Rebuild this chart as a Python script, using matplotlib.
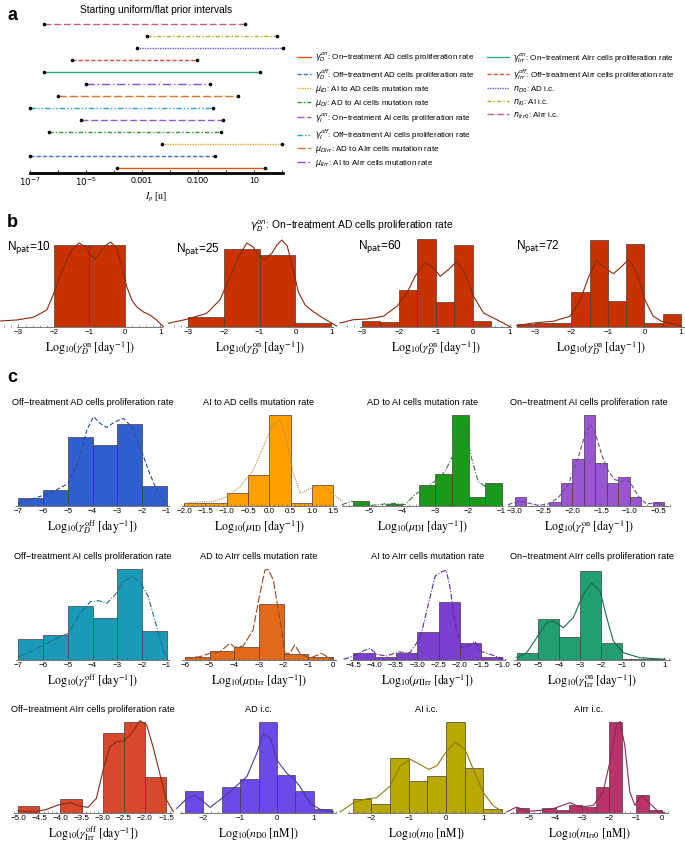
import numpy as np
import matplotlib.pyplot as plt
from matplotlib.font_manager import FontProperties
from matplotlib.ticker import MultipleLocator, AutoMinorLocator, FixedLocator, NullFormatter

plt.rcParams['font.family'] = ['Liberation Sans', 'DejaVu Sans']
plt.rcParams['mathtext.fontset'] = 'stix'

W, H = 685.0, 846.0
fig = plt.figure(figsize=(6.85, 8.46), dpi=100)


def add_ax(x0, x1, ytop, ybot):
    # place an axes with pixel coordinates of the 685x846 canvas
    return fig.add_axes([x0 / W, 1 - ybot / H, (x1 - x0) / W, (ybot - ytop) / H])


def fig_text(x, y, s, **kw):
    return fig.text(x / W, 1 - y / H, s, **kw)


# ---------------- panel a : prior intervals ----------------
prior_labels = [
    r'$\gamma_D^{on}$: On−treatment AD cells proliferation rate',
    r'$\gamma_D^{off}$: Off−treatment AD cells proliferation rate',
    r'$\mu_{ID}$: AI to AD cells mutation rate',
    r'$\mu_{DI}$: AD to AI cells mutation rate',
    r'$\gamma_I^{on}$: On−treatment AI cells proliferation rate',
    r'$\gamma_I^{off}$: Off−treatment AI cells proliferation rate',
    r'$\mu_{DIrr}$: AD to AIrr cells mutation rate',
    r'$\mu_{IIrr}$: AI to AIrr cells mutation rate',
    r'$\gamma_{Irr}^{on}$: On−treatment AIrr cells proliferation rate',
    r'$\gamma_{Irr}^{off}$: Off−treatment AIrr cells proliferation rate',
    r'$n_{D0}$: AD i.c.',
    r'$n_{I0}$: AI i.c.',
    r'$n_{Irr0}$: AIrr i.c.',
]
prior_lo = [1.3e-4, 1e-7, 5.4e-3, 4.8e-7, 6.5e-6, 1e-7, 1e-6, 1e-5, 3.2e-7, 3.2e-6, 6.8e-4, 1.5e-3, 3.2e-7]
prior_hi = [24, 0.42, 100, 0.69, 0.76, 0.35, 2.6, 0.26, 17, 0.091, 110, 68, 5.0]
prior_colors = ['#d9581f', '#3a6fd8', '#f5a623', '#2a9a2a', '#9b59d0', '#25a7c7', '#e0742a',
                '#8a4fd6', '#2aae80', '#d9503a', '#6a5ae8', '#b8b020', '#cc5c8c']
prior_styles = ['-', (0, (3, 1.5)), (0, (1, 0.8)), (0, (3, 1.5, 1, 1.5)), (0, (5, 2)),
                (0, (4, 1.5, 1, 1.5, 1, 1.5)), (0, (6, 2)), (0, (6, 2, 1, 2)), '-',
                (0, (3, 1.5)), (0, (1, 0.8)), (0, (3, 1.5, 1, 1.5)), (0, (5, 2))]

ax = add_ax(30, 283, 15, 173)
handles = []
for i in range(len(prior_labels)):
    ln, = ax.plot([prior_lo[i], prior_hi[i]], [i + 1, i + 1], color=prior_colors[i],
                  ls=prior_styles[i], lw=1.0, clip_on=False)
    ax.plot([prior_lo[i], prior_hi[i]], [i + 1, i + 1], 'o', color='k', ms=1.6, clip_on=False)
    handles.append(ln)
ax.set_xscale('log')
ax.set_xlim(1e-7, 10 ** 2.04)
ax.set_ylim(0.583, 13.75)
for s in ['left', 'right', 'top']:
    ax.spines[s].set_visible(False)
ax.spines['bottom'].set_linewidth(2.0)
ax.set_yticks([])
ax.xaxis.set_major_locator(FixedLocator([1e-7, 1e-5, 1e-3, 1e-1, 1e1]))
ax.set_xticklabels([r'$10^{-7}$', r'$10^{-5}$', '0.001', '0.100', '10'], fontsize=6.3)
for lbl in ax.get_xticklabels():
    lbl.set_math_fontfamily('dejavusans')
ax.xaxis.set_minor_locator(FixedLocator([1e-6, 1e-4, 1e-2, 1, 1e2]))
ax.xaxis.set_minor_formatter(NullFormatter())
ax.tick_params(axis='x', which='both', direction='in', length=2.5, width=0.6, pad=2)
ax.set_xlabel(r'$I_p$ [u]', fontsize=7, labelpad=2, family='Liberation Serif')
ax.set_title('Starting uniform/flat prior intervals', fontsize=7.3, pad=1.5)

leg_font = FontProperties(family='Liberation Sans', size=5.8, math_fontfamily='dejavusans')
leg_kw = dict(loc='upper left', frameon=False, prop=leg_font, handletextpad=0.55,
              labelspacing=0.3, borderpad=0, borderaxespad=0)
fig.legend(handles[:8], prior_labels[:8], bbox_to_anchor=(297 / W, 1 - 51 / H),
           handlelength=1.7, **leg_kw)
fig.legend(handles[8:], prior_labels[8:], bbox_to_anchor=(487 / W, 1 - 51 / H),
           handlelength=2.7, **leg_kw)

# ---------------- panel b : gamma_D^on vs number of patients ----------------
b_npat = [10, 25, 60, 72]
b10_edges = [-2, -1, 0]
b10_heights = [82, 82]
b25_edges = [-3, -2, -1, 0, 1]
b25_heights = [10.3, 77.7, 72.3, 4.3]
b60_edges = [-3, -2.5, -2, -1.5, -1, -0.5, 0, 0.5]
b60_heights = [5.7, 5, 37.3, 88.3, 24.7, 82.3, 5.7]
b72_edges = [-3.5, -3, -2.5, -2, -1.5, -1, -0.5, 0, 0.5, 1]
b72_heights = [3.3, 4, 4, 34.7, 87.3, 25.7, 83.3, 4, 13]

b10_kde_x = [-3.52, -3.05, -2.58, -2.20, -2.02, -1.83, -1.64, -1.45, -1.28, -1.12, -0.98, -0.84,
             -0.70, -0.56, -0.40, -0.23, -0.08, 0.06, 0.20, 0.34, 0.53, 0.71, 0.90, 1.09]
b10_kde_y = [6, 7, 9.7, 17, 32, 50, 67, 79, 84, 80, 72, 68, 74, 81, 85, 79, 60, 40, 27, 20,
             15, 12, 7, 0.3]
b25_kde_x = [-3.55, -3.04, -2.48, -2.11, -1.83, -1.59, -1.36, -1.18, -0.99, -0.85, -0.66,
             -0.52, -0.38, -0.23, -0.06, 0.08, 0.27, 0.50, 0.78, 1.15]
b25_kde_y = [3.7, 7.7, 13.7, 27, 50, 70, 84, 80, 70, 67.7, 73.7, 82, 87, 81, 57, 35, 22,
             15.3, 8.7, 1]
b60_kde_x = [-3.59, -3.23, -2.86, -2.42, -2.05, -1.78, -1.56, -1.29, -1.06, -0.88, -0.66,
             -0.43, -0.21, 0.02, 0.29, 0.56, 0.83, 1.01]
b60_kde_y = [4, 7.3, 8, 10.7, 20.7, 34, 50.7, 64.7, 59, 50.7, 57.3, 65.7, 54, 30.7, 14, 9,
             4, 0]
b72_kde_x = [-3.50, -3.05, -2.50, -2.04, -1.77, -1.54, -1.31, -1.08, -0.85, -0.62, -0.42,
             -0.21, 0.01, 0.24, 0.47, 0.79, 1.02]
b72_kde_y = [1.3, 4, 5.7, 10.7, 25.7, 49, 66.7, 59, 53.3, 60.7, 68, 54, 27.3, 10.7, 5.7,
             3.3, 0.7]

b_sets = [
    (b10_edges, b10_heights, b10_kde_x, b10_kde_y, (0, 163), (-3.52, 1.08), (-3.05, 1.05), (7, 248)),
    (b25_edges, b25_heights, b25_kde_x, b25_kde_y, (168, 337), (-3.56, 1.16), (-3.05, 1.05), (176, 250)),
    (b60_edges, b60_heights, b60_kde_x, b60_kde_y, (340, 512), (-3.59, 1.06), (-3.05, 1.02), (358, 247)),
    (b72_edges, b72_heights, b72_kde_x, b72_kde_y, (517, 685), (-3.49, 1.11), (-3.5, 1.1), (516, 247)),
]

hist_lab_kw = dict(ha='center', va='center', fontsize=8.5)


def draw_hist(ax, edges, heights, kx, ky, face, lcol, ls, xlim, step, bounds=None):
    edges = np.asarray(edges, dtype=float)
    ax.bar(edges[:-1], heights, width=np.diff(edges), align='edge', color=face,
           edgecolor='#4a3a3a', linewidth=0.5)
    ax.plot(kx, ky, color=lcol, ls=ls, lw=0.8, clip_on=False)
    ax.set_xlim(*xlim)
    ax.set_ylim(0, 95)
    ax.set_yticks([])
    for s in ['left', 'right', 'top']:
        ax.spines[s].set_visible(False)
    ax.spines['bottom'].set_color('#777777')
    ax.spines['bottom'].set_linewidth(0.7)
    if bounds is not None:
        ax.spines['bottom'].set_bounds(*bounds)
    ax.xaxis.set_major_locator(MultipleLocator(step))
    ax.xaxis.set_minor_locator(AutoMinorLocator(5))
    ax.tick_params(axis='x', which='major', direction='in', length=2.5, width=0.5,
                   labelsize=5.8, pad=1.5, color='#555555')
    ax.tick_params(axis='x', which='minor', direction='in', length=1.3, width=0.4,
                   color='#555555')
    ax.patch.set_alpha(0)


t = fig_text(352, 226, r'$\gamma_D^{on}$: On−treatment AD cells proliferation rate', ha='center',
             va='center', fontsize=7.4)
t.set_math_fontfamily('dejavusans')
xlab_b = r'$\mathrm{Log}_{10}(\gamma_D^{\mathrm{on}}\ [\mathrm{day}^{-1}])$'
for k, (e, h, kx, ky, (x0, x1), xl, bnd, (tx, ty)) in enumerate(b_sets):
    axb = add_ax(x0, x1, 232, 327)
    draw_hist(axb, e, h, kx, ky, '#c83200', '#8b2a10', '-', xl, 1, bnd)
    axb.set_xticks([-3, -2, -1, 0, 1])
    axb.annotate(xlab_b, xy=((bnd[0] + bnd[1]) / 2, 0), xycoords=('data', 'axes fraction'),
                 xytext=(0, -15.5), textcoords='offset points', **hist_lab_kw)
    t = fig_text(tx, ty, r'N$_{\mathrm{pat}}$=%d' % b_npat[k], ha='left', va='center',
                 fontsize=8.5)
    t.set_math_fontfamily('dejavusans')

# ---------------- panel c : posterior histograms ----------------
gDoff_edges = [-7, -6, -5, -4, -3, -2, -1]
gDoff_heights = [7.3, 15.7, 69, 60.7, 81.7, 20]
gDoff_kde_x = [-7.0, -6.39, -5.72, -4.98, -4.50, -4.23, -3.96, -3.69, -3.42, -3.09, -2.75,
               -2.41, -2.07, -1.74, -1.40, -1.06]
gDoff_kde_y = [2.3, 7.3, 12.3, 22.3, 49, 75.7, 89, 82.3, 78.3, 84, 87.3, 79, 59, 35.7, 15.7, 2.3]

muID_edges = [-2, -1.5, -1, -0.5, 0, 0.5, 1, 1.5]
muID_heights = [2.3, 2.3, 13, 30.7, 90.7, 2.3, 20.7]
muID_kde_x = [-2.0, -1.63, -1.32, -1.0, -0.69, -0.38, -0.14, 0.05, 0.25, 0.40, 0.56, 0.72,
              0.95, 1.23, 1.46, 1.73]
muID_kde_y = [2.3, 4, 4, 9, 19, 35.7, 59, 79, 85.7, 65.7, 32.3, 12.3, 17.3, 20.7, 12.3, 4]

muDI_edges = [-5.5, -5, -4.5, -4, -3.5, -3, -2.5, -2, -1.5, -1]
muDI_heights = [5, 0, 2, 0, 20.3, 32, 90.3, 8.3, 23]
muDI_kde_x = [-5.83, -5.53, -5.23, -4.93, -4.53, -4.22, -3.92, -3.62, -3.32, -3.02, -2.71,
              -2.46, -2.26, -2.16, -2.06, -1.91, -1.71, -1.50, -1.25, -1.05]
muDI_kde_y = [1, 4.3, 3.7, 0.3, 1.7, 2.3, 1, 11, 17.7, 24.3, 34.3, 51, 71, 76, 71, 47.7, 24.3,
              19.3, 21, 19.3]

gIon_edges = [-3.0, -2.8, -2.6, -2.4, -2.2, -2.0, -1.8, -1.6, -1.4, -1.2, -1.0, -0.8, -0.6, -0.4]
gIon_heights = [9, 0, 0, 4, 23, 47, 90.3, 42.7, 23, 28.3, 9, 0, 4]
gIon_kde_x = [-3.12, -2.97, -2.88, -2.77, -2.59, -2.42, -2.25, -2.07, -1.90, -1.78, -1.69,
              -1.61, -1.49, -1.37, -1.26, -1.14, -1.05, -0.97, -0.85, -0.71, -0.56, -0.39]
gIon_kde_y = [1, 3.7, 4.3, 2.7, 0.3, 1.7, 7.7, 21, 47.7, 71, 81, 74.3, 51, 34.3, 26, 24.3, 26,
              21, 9.3, 1.7, 2.7, 1]

gIoff_edges = [-7, -6, -5, -4, -3, -2, -1]
gIoff_heights = [21, 25, 54, 42.3, 91, 29.3]
gIoff_kde_x = [-7.0, -6.39, -5.72, -4.98, -4.50, -4.09, -3.76, -3.42, -3.09, -2.75, -2.41,
               -2.07, -1.74, -1.40, -1.13, -1.0]
gIoff_kde_y = [3.3, 10, 18.3, 26.7, 46.7, 58.3, 59.3, 56.7, 65, 78.3, 83.3, 78.3, 63.3, 33.3,
               10, 1.7]

muDIrr_edges = [-6, -5, -4, -3, -2, -1, 0]
muDIrr_heights = [3.3, 9.3, 13.3, 55.7, 6, 3.3]
muDIrr_kde_x = [-6.0, -5.39, -4.99, -4.58, -4.18, -3.98, -3.64, -3.24, -2.96, -2.76, -2.63,
                -2.42, -2.15, -1.95, -1.75, -1.55, -1.34, -0.94, -0.47, -0.13, 0.0]
muDIrr_kde_y = [1.7, 3.3, 6.7, 8.3, 16.7, 12.7, 14, 30, 66.7, 90, 90.7, 80, 40, 6.7, 6.7, 15,
                6.7, 1.7, 6.7, 1.7, 0.7]

muIIrr_edges = [-4.5, -4, -3.5, -3, -2.5, -2, -1.5, -1]
muIIrr_heights = [6.7, 3, 7.3, 28.3, 58, 17.3, 3.3]
muIIrr_kde_x = [-4.73, -4.5, -4.27, -4.11, -3.95, -3.72, -3.44, -3.17, -2.93, -2.74, -2.58,
                -2.42, -2.32, -2.23, -2.11, -1.96, -1.80, -1.64, -1.53, -1.29, -1.06, -0.90]
muIIrr_kde_y = [0.7, 4, 9, 11.7, 5.7, 4, 8, 7.3, 22.3, 55.7, 84, 88.3, 89.7, 72.3, 35.7, 12.3,
                14, 18.3, 9, 5.7, 2.3, 0]

gIrron_edges = [-6, -5, -4, -3, -2, -1, 0, 1]
gIrron_heights = [7.3, 40.7, 23, 89, 16.7, 1.3, 1.3]
gIrron_kde_x = [-6.02, -5.53, -5.05, -4.58, -4.27, -3.79, -3.32, -2.84, -2.45, -2.05, -1.73,
                -1.42, -0.95, -0.16, 1.03]
gIrron_kde_y = [2.3, 7.3, 22.3, 37.3, 39, 32.3, 42.3, 65.7, 77.3, 69, 42.3, 19, 7.3, 2.3, 0.7]

gIrroff_edges = [-5, -4.5, -4, -3.5, -3, -2.5, -2, -1.5]
gIrroff_heights = [6.7, 0, 14, 0, 79.3, 90.3, 36]
gIrroff_kde_x = [-5.0, -4.65, -4.33, -4.06, -3.78, -3.54, -3.35, -3.15, -2.99, -2.83, -2.67,
                 -2.50, -2.32, -2.12, -1.96, -1.81, -1.61, -1.49, -1.33]
gIrroff_kde_y = [2, 0.7, 3.3, 7.7, 10, 6.7, 5.3, 14.3, 42.7, 66, 71, 71.7, 79.3, 92, 87.7, 66,
                 32.7, 12.7, 1]

nD0_edges = [-2.5, -2, -1.5, -1, -0.5, 0, 0.5, 1, 1.5]
nD0_heights = [22, 0, 26, 33.7, 91, 37.7, 22, 3.3]
nD0_kde_x = [-2.73, -2.45, -2.23, -2.0, -1.82, -1.5, -1.18, -0.82, -0.55, -0.37, -0.18, 0.0,
             0.27, 0.45, 0.63, 0.91, 1.18, 1.54]
nD0_kde_y = [4.3, 14.3, 17.7, 11, 5.3, 14.3, 24.3, 36, 59.3, 79.3, 74.3, 52.7, 39.3, 34.3, 26,
             9.3, 3.3, 1]

nI0_edges = [-2.5, -2, -1.5, -1, -0.5, 0, 0.5, 1, 1.5]
nI0_heights = [13.3, 9, 54.3, 31.7, 36.7, 90.7, 45, 4]
nI0_kde_x = [-2.84, -2.48, -2.12, -1.86, -1.5, -1.23, -0.96, -0.70, -0.47, -0.25, 0.02, 0.24,
             0.51, 0.73, 1.0, 1.27, 1.49]
nI0_kde_y = [0.7, 10, 14, 15, 26.7, 46.7, 53.3, 48.3, 43.3, 46.7, 61.7, 70.7, 63.3, 43.3, 20,
             6.7, 1.7]

nIrr0_edges = [-5.5, -5, -4.5, -4, -3.5, -3, -2.5, -2, -1.5, -1, -0.5, 0]
nIrr0_heights = [4.7, 0, 4.7, 2.3, 7.3, 5.7, 25.7, 90.7, 0, 17.3, 2.3]
nIrr0_kde_x = [-5.84, -5.46, -5.09, -4.59, -4.09, -3.47, -3.09, -2.59, -2.22, -1.97, -1.72,
               -1.59, -1.41, -1.22, -1.03, -0.78, -0.53, -0.16, 0.09]
nIrr0_kde_y = [0.7, 5.7, 1.3, 2.3, 4, 10, 5.7, 7.3, 20.7, 50.7, 87.3, 91.3, 67.3, 20.7, 7.3,
               17.3, 10.7, 1.3, 0]

c_titles = [
    'Off−treatment AD cells proliferation rate', 'AI to AD cells mutation rate',
    'AD to AI cells mutation rate', 'On−treatment AI cells proliferation rate',
    'Off−treatment AI cells proliferation rate', 'AD to AIrr cells mutation rate',
    'AI to AIrr cells mutation rate', 'On−treatment AIrr cells proliferation rate',
    'Off−treatment AIrr cells proliferation rate', 'AD i.c.', 'AI i.c.', 'AIrr i.c.',
]
c_xlabels = [
    r'$\mathrm{Log}_{10}(\gamma_D^{\mathrm{off}}\ [\mathrm{day}^{-1}])$',
    r'$\mathrm{Log}_{10}(\mu_{\mathrm{ID}}\ [\mathrm{day}^{-1}])$',
    r'$\mathrm{Log}_{10}(\mu_{\mathrm{DI}}\ [\mathrm{day}^{-1}])$',
    r'$\mathrm{Log}_{10}(\gamma_I^{\mathrm{on}}\ [\mathrm{day}^{-1}])$',
    r'$\mathrm{Log}_{10}(\gamma_I^{\mathrm{off}}\ [\mathrm{day}^{-1}])$',
    r'$\mathrm{Log}_{10}(\mu_{\mathrm{DIrr}}\ [\mathrm{day}^{-1}])$',
    r'$\mathrm{Log}_{10}(\mu_{\mathrm{IIrr}}\ [\mathrm{day}^{-1}])$',
    r'$\mathrm{Log}_{10}(\gamma_{\mathrm{Irr}}^{\mathrm{on}}\ [\mathrm{day}^{-1}])$',
    r'$\mathrm{Log}_{10}(\gamma_{\mathrm{Irr}}^{\mathrm{off}}\ [\mathrm{day}^{-1}])$',
    r'$\mathrm{Log}_{10}(n_{\mathrm{D0}}\ [\mathrm{nM}])$',
    r'$\mathrm{Log}_{10}(n_{\mathrm{I0}}\ [\mathrm{nM}])$',
    r'$\mathrm{Log}_{10}(n_{\mathrm{Irr0}}\ [\mathrm{nM}])$',
]
c_data = [
    (gDoff_edges, gDoff_heights, gDoff_kde_x, gDoff_kde_y),
    (muID_edges, muID_heights, muID_kde_x, muID_kde_y),
    (muDI_edges, muDI_heights, muDI_kde_x, muDI_kde_y),
    (gIon_edges, gIon_heights, gIon_kde_x, gIon_kde_y),
    (gIoff_edges, gIoff_heights, gIoff_kde_x, gIoff_kde_y),
    (muDIrr_edges, muDIrr_heights, muDIrr_kde_x, muDIrr_kde_y),
    (muIIrr_edges, muIIrr_heights, muIIrr_kde_x, muIIrr_kde_y),
    (gIrron_edges, gIrron_heights, gIrron_kde_x, gIrron_kde_y),
    (gIrroff_edges, gIrroff_heights, gIrroff_kde_x, gIrroff_kde_y),
    (nD0_edges, nD0_heights, nD0_kde_x, nD0_kde_y),
    (nI0_edges, nI0_heights, nI0_kde_x, nI0_kde_y),
    (nIrr0_edges, nIrr0_heights, nIrr0_kde_x, nIrr0_kde_y),
]
# face colour, curve colour, curve style
c_styles = [
    ('#2f5fce', '#2a4a9a', (0, (4, 2))),
    ('#ff9f00', '#b88a40', (0, (1, 1))),
    ('#1a9a1a', '#3a7a3a', (0, (5, 1.5, 1, 1.5))),
    ('#9a55d0', '#6a4a90', (0, (4, 2))),
    ('#1a9ab8', '#1a7080', (0, (5, 1.5, 1, 1.5))),
    ('#e06a1a', '#9a4a1a', (0, (7, 2))),
    ('#7a3fcf', '#5a2aa0', (0, (5, 1.5, 1, 1.5))),
    ('#20a070', '#1a6a4a', '-'),
    ('#d8482a', '#8a2a1a', '-'),
    ('#6a4ae8', '#4a3aa0', '-'),
    ('#b8a800', '#8a8010', '-'),
    ('#b8336a', '#8a2a5a', '-'),
]
c_xpix = [(16, 169), (182, 336), (342, 503), (508, 670),
          (16, 169), (182, 336), (350, 505), (514, 670),
          (14, 172), (180, 336), (348, 505), (510, 668)]
c_xlims = [(-7.1, -0.9), (-2.05, 1.56), (-5.82, -0.96), (-3.12, -0.3),
           (-7.1, -0.9), (-6.12, 0.12), (-4.58, -0.94), (-6.13, 1.27),
           (-5.1, -1.36), (-2.64, 1.61), (-2.63, 1.58), (-5.71, 0.21)]
c_steps = [1, 0.5, 1, 0.5, 1, 1, 0.5, 1, 0.5, 1, 1, 1]
c_rows = [(410.7, 505.7), (565, 660), (717.7, 812.7)]

for k in range(12):
    ytop, ybot = c_rows[k // 4]
    x0, x1 = c_xpix[k]
    axc = add_ax(x0, x1, ytop, ybot)
    e, h, kx, ky = c_data[k]
    face, lcol, ls = c_styles[k]
    draw_hist(axc, e, h, kx, ky, face, lcol, ls, c_xlims[k], c_steps[k])
    axc.set_title(c_titles[k], fontsize=6.6, pad=4)
    axc.annotate(c_xlabels[k], xy=(0.5, 0), xycoords='axes fraction', xytext=(0, -15.5),
                 textcoords='offset points', **hist_lab_kw)

for letter, (x, y) in zip('abc', [(12, 15), (12, 222), (12, 377)]):
    fig_text(x, y, letter, ha='center', va='center', fontsize=13, fontweight='bold')

fig.savefig('out.png', dpi=100)
